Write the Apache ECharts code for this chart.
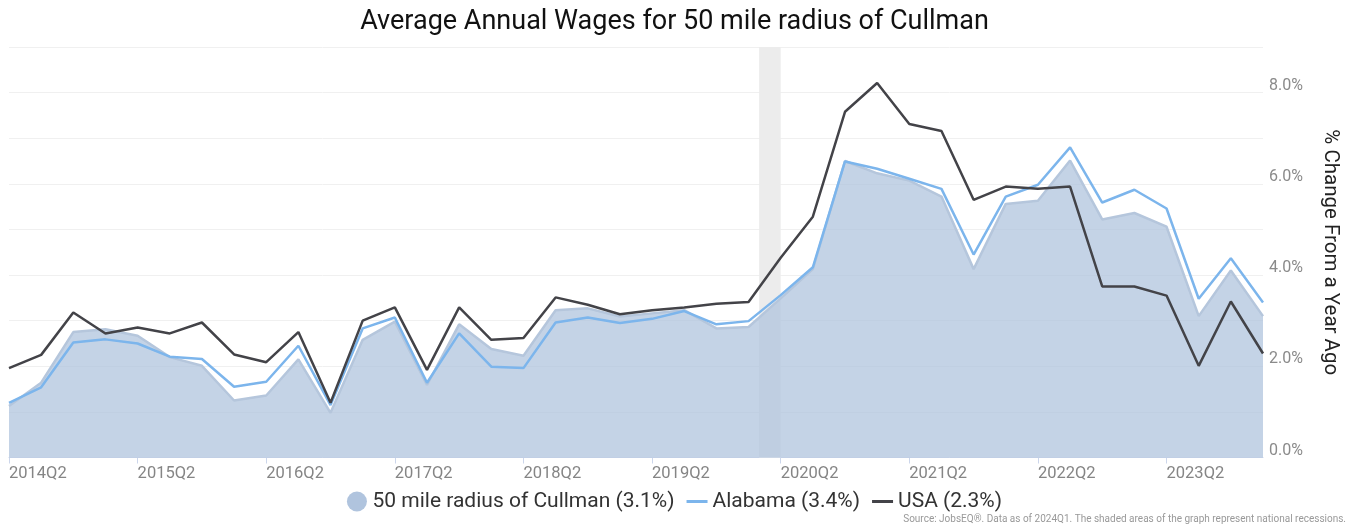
<!DOCTYPE html>
<html>
<head>
<meta charset="utf-8">
<title>Average Annual Wages</title>
<script src="https://cdn.jsdelivr.net/npm/echarts@6/dist/echarts.min.js"></script>
<style>
  html, body { margin: 0; padding: 0; background: #fff; }
  #chart { width: 1349px; height: 525px; }
</style>
</head>
<body>
<div id="chart"></div>
<script>
  // quarters shown on the x axis (2014Q2 .. 2024Q1)
  var quarters = [
    '2014Q2', '2014Q3', '2014Q4', '2015Q1', '2015Q2', '2015Q3', '2015Q4', '2016Q1',
    '2016Q2', '2016Q3', '2016Q4', '2017Q1', '2017Q2', '2017Q3', '2017Q4', '2018Q1',
    '2018Q2', '2018Q3', '2018Q4', '2019Q1', '2019Q2', '2019Q3', '2019Q4', '2020Q1',
    '2020Q2', '2020Q3', '2020Q4', '2021Q1', '2021Q2', '2021Q3', '2021Q4', '2022Q1',
    '2022Q2', '2022Q3', '2022Q4', '2023Q1', '2023Q2', '2023Q3', '2023Q4', '2024Q1'
  ];
  var cullman = [
    1.13, 1.64, 2.75, 2.81, 2.67, 2.20, 2.01, 1.25, 1.36, 2.15,
    0.98, 2.58, 2.98, 1.59, 2.92, 2.38, 2.23, 3.23, 3.27, 3.09,
    3.16, 3.23, 2.83, 2.86, 3.49, 4.13, 6.50, 6.23, 6.07, 5.72,
    4.13, 5.56, 5.63, 6.51, 5.22, 5.36, 5.06, 3.10, 4.10, 3.10
  ];
  var alabama = [
    1.20, 1.54, 2.52, 2.59, 2.50, 2.21, 2.16, 1.55, 1.66, 2.45,
    1.15, 2.83, 3.07, 1.64, 2.72, 1.99, 1.96, 2.96, 3.07, 2.95,
    3.04, 3.21, 2.92, 2.99, 3.56, 4.17, 6.49, 6.33, 6.11, 5.89,
    4.45, 5.72, 5.98, 6.80, 5.59, 5.87, 5.46, 3.48, 4.37, 3.40
  ];
  var usa = [
    1.96, 2.25, 3.18, 2.72, 2.85, 2.72, 2.96, 2.26, 2.09, 2.75,
    1.20, 3.00, 3.29, 1.92, 3.29, 2.58, 2.62, 3.51, 3.35, 3.14,
    3.23, 3.29, 3.37, 3.41, 4.38, 5.28, 7.58, 8.21, 7.31, 7.16,
    5.65, 5.94, 5.89, 5.94, 3.75, 3.75, 3.55, 2.01, 3.42, 2.28
  ];
  // national recession, in quarter-index units
  var recession = [23.33, 24];
  var seriesNames = ['50 mile radius of Cullman (3.1%)', 'Alabama (3.4%)', 'USA (2.3%)'];

  function pairs(arr) {
    return arr.map(function (v, i) { return [i, v]; });
  }
  var q2Ticks = [];
  quarters.forEach(function (q, i) {
    if (q.slice(-2) === 'Q2') q2Ticks.push(i);
  });

  var chart = echarts.init(document.getElementById('chart'));
  var font = 'Roboto, "Noto Sans", sans-serif';
  var lineIcon = 'path://M0,0 L21,0 L21,3 L0,3 Z';

  chart.setOption({
    animation: false,
    textStyle: { fontFamily: font },
    title: {
      text: 'Average Annual Wages for 50 mile radius of Cullman',
      left: 'center',
      top: 4,
      textStyle: { fontSize: 27, fontWeight: 'normal', color: '#111', fontFamily: font }
    },
    grid: { left: 9, right: 84, top: 47, bottom: 67.5, containLabel: false },
    legend: {
      bottom: 8,
      left: 'center',
      itemWidth: 21,
      itemHeight: 20,
      itemGap: 12,
      symbolKeepAspect: true,
      textStyle: { fontSize: 21, color: '#333', fontFamily: font },
      data: [
        { name: seriesNames[0], icon: 'circle' },
        { name: seriesNames[1], icon: lineIcon },
        { name: seriesNames[2], icon: lineIcon }
      ]
    },
    xAxis: {
      type: 'value',
      min: 0,
      max: quarters.length - 1,
      interval: 4,
      splitLine: { show: false },
      axisLine: { show: true, lineStyle: { color: '#ccd6eb', width: 1 } },
      axisTick: { show: true, length: 6, lineStyle: { color: '#ccd6eb' }, customValues: q2Ticks },
      axisLabel: {
        customValues: q2Ticks,
        align: 'left',
        margin: 8,
        fontSize: 16.5,
        color: '#858585',
        formatter: function (v) { return quarters[v] || ''; }
      }
    },
    yAxis: {
      type: 'value',
      position: 'right',
      min: 0,
      max: 9,
      interval: 1,
      name: '% Change From a Year Ago',
      nameLocation: 'middle',
      nameRotate: -90,
      nameGap: 57,
      nameTextStyle: { fontSize: 20.5, color: '#222', fontFamily: font },
      axisLine: { show: false },
      axisTick: { show: false },
      splitLine: { lineStyle: { color: '#f0f0f0', width: 1 } },
      axisLabel: {
        margin: 6,
        fontSize: 16,
        lineHeight: 14,
        color: '#8a8a8a',
        verticalAlign: 'bottom',
        formatter: function (v) { return v % 2 === 0 ? v.toFixed(1) + '%' : ''; }
      }
    },
    series: [
      {
        name: 'recession',
        type: 'line',
        data: [],
        z: 1,
        silent: true,
        markArea: {
          silent: true,
          itemStyle: { color: '#ececec' },
          data: [[{ xAxis: recession[0] }, { xAxis: recession[1] }]]
        }
      },
      {
        name: seriesNames[0],
        type: 'line',
        z: 2,
        symbol: 'none',
        data: pairs(cullman),
        itemStyle: { color: '#b0c4de' },
        lineStyle: { color: '#b5c6dc', width: 2.5 },
        areaStyle: { color: '#b0c4de', opacity: 0.75 }
      },
      {
        name: seriesNames[1],
        type: 'line',
        z: 3,
        symbol: 'none',
        data: pairs(alabama),
        itemStyle: { color: '#7cb5ec' },
        lineStyle: { color: '#7cb5ec', width: 2.5 }
      },
      {
        name: seriesNames[2],
        type: 'line',
        z: 4,
        symbol: 'none',
        data: pairs(usa),
        itemStyle: { color: '#434348' },
        lineStyle: { color: '#434348', width: 2.5 }
      }
    ],
    graphic: [{
      type: 'text',
      right: 3,
      top: 514,
      style: {
        text: 'Source: JobsEQ®. Data as of 2024Q1. The shaded areas of the graph represent national recessions.',
        fontSize: 10,
        fill: '#999',
        fontFamily: font
      }
    }]
  });

  window.addEventListener('resize', function () {
    chart.resize();
  });
</script>
</body>
</html>
